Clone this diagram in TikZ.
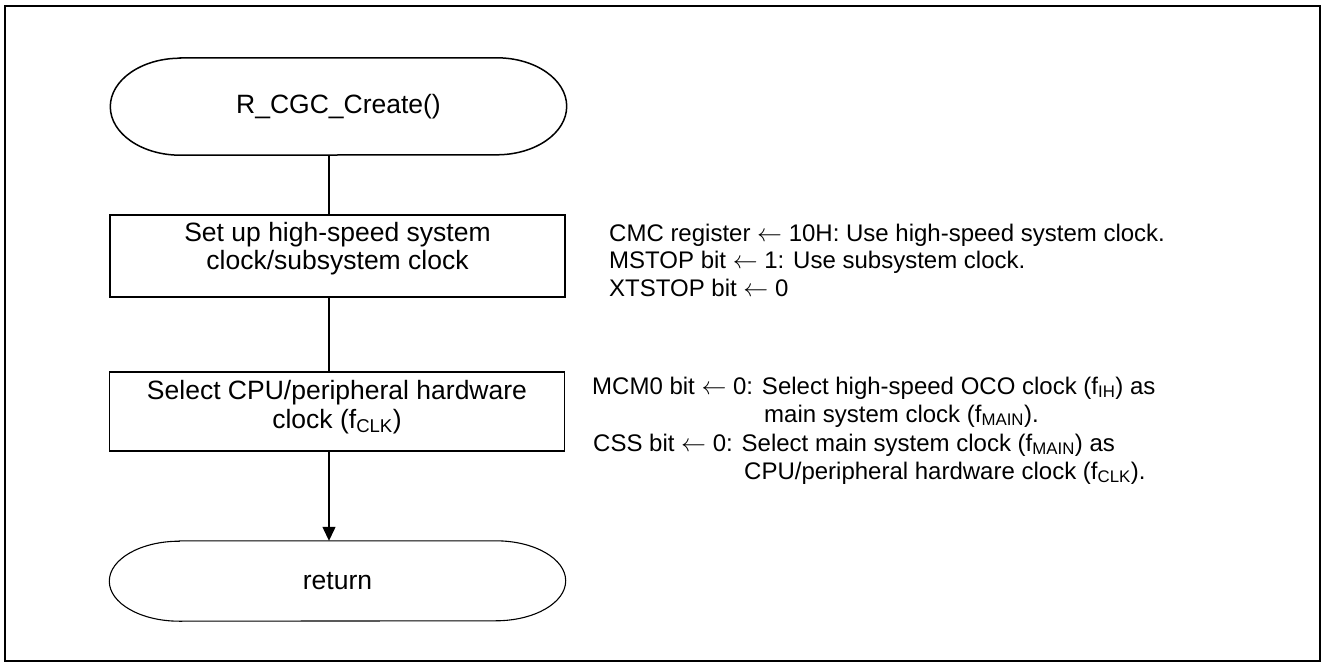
\documentclass[tikz,border=0pt]{standalone}
\usepackage{fontspec}
\setmainfont{Liberation Sans}
\usetikzlibrary{arrows.meta}
\newcommand{\liftlines}[2]{\raisebox{#1}[\height][\depth]{\begin{tabular}{@{}c@{}}#2\end{tabular}}}
\begin{document}
\begin{tikzpicture}[x=1pt,y=-1pt,
  every node/.style={font=\fontsize{26.5}{28.5}\selectfont},
  proc/.style={draw,line width=1.3pt,minimum width=455pt,inner sep=0pt},
  term/.style={minimum width=456pt,inner sep=0pt},
  note/.style={anchor=base west,inner sep=0pt,font=\fontsize{24}{27}\selectfont},
  conn/.style={line width=1.3pt},
  frame/.style={line width=2pt}]
\useasboundingbox (0,0) rectangle (1323,663);
\draw[frame] (5,6) rectangle (1320,661);
\coordinate (spine) at (329,0);
% start terminal
\node[term,minimum height=97pt] (start) at (338.5,106.5) {R\_CGC\_Create()};
\draw[line width=1.5pt] ([xshift=70pt]start.north west) -- ([xshift=-70pt]start.north east)
  arc[start angle=90,end angle=-90,x radius=70pt,y radius=48.5pt]
  -- ([xshift=70pt]start.south west)
  arc[start angle=270,end angle=90,x radius=70pt,y radius=48.5pt] -- cycle;
% process boxes
\node[proc,minimum height=82pt] (box1) at (337.5,256)
  {\liftlines{6pt}{Set up high-speed system\\clock/subsystem clock}};
\node[proc,minimum height=79pt] (box2) at (337,411.5)
  {\liftlines{3pt}{Select CPU/peripheral hardware\\clock (f\textsubscript{CLK})}};
% return terminal
\node[term,minimum height=80pt] (ret) at (337.5,581) {return};
\draw[line width=1.1pt] ([xshift=70pt]ret.north west) -- ([xshift=-70pt]ret.north east)
  arc[start angle=90,end angle=-90,x radius=70pt,y radius=40pt]
  -- ([xshift=70pt]ret.south west)
  arc[start angle=270,end angle=90,x radius=70pt,y radius=40pt] -- cycle;
% connectors
\draw[conn] (start.south -| spine) -- (box1.north -| spine);
\draw[conn] (box1.south -| spine) -- (box2.north -| spine);
\draw[conn,-{Triangle[length=14pt,width=13pt]}] (box2.south -| spine) -- (ret.north -| spine);
% annotations
\node[note] (a1) at (609,242) {CMC register $\leftarrow$ 10H: Use high-speed system clock.};
\node[note] (a2) at (609,269) {MSTOP bit $\leftarrow$ 1: Use subsystem clock.};
\node[note] (a3) at (609,296) {XTSTOP bit $\leftarrow$ 0};
\node[note] (b1) at (592,394) {MCM0 bit $\leftarrow$ 0: Select high-speed OCO clock (f\textsubscript{IH}) as};
\node[note] (b2) at (764,422) {main system clock (f\textsubscript{MAIN}).};
\node[note] (b3) at (593,451) {CSS bit $\leftarrow$ 0: Select main system clock (f\textsubscript{MAIN}) as};
\node[note] (b4) at (744,479) {CPU/peripheral hardware clock (f\textsubscript{CLK}).};
\end{tikzpicture}
\end{document}
